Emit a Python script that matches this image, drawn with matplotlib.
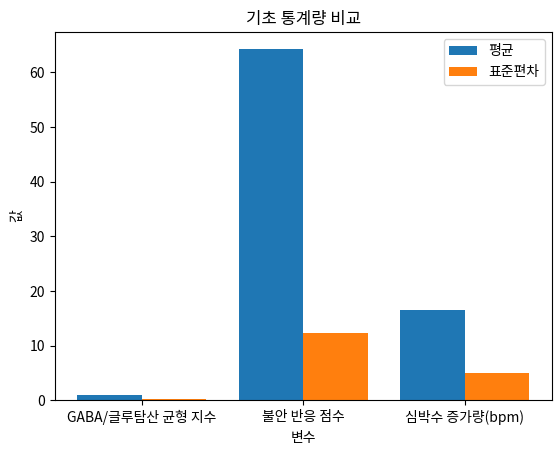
import matplotlib
matplotlib.use("Agg")
import matplotlib.pyplot as plt
import numpy as np

plt.rcParams['font.family'] = ['Noto Sans CJK KR', 'DejaVu Sans']

categories = ["GABA/글루탐산 균형 지수", "불안 반응 점수", "심박수 증가량(bpm)"]
means = [1.0, 64.2, 16.5]
stds = [0.3, 12.3, 5.0]

fig, ax = plt.subplots(figsize=(5.6, 4.55), dpi=100)
x = np.arange(len(categories))
w = 0.4
ax.bar(x - w/2, means, w, label="평균", color="#1f77b4")
ax.bar(x + w/2, stds, w, label="표준편차", color="#ff7f0e")
ax.set_xticks(x)
ax.set_xticklabels(categories)
ax.set_xlabel("변수")
ax.set_ylabel("값")
ax.set_title("기초 통계량 비교")
ax.legend(loc="upper right")
fig.subplots_adjust(left=0.098, right=0.985, top=0.93, bottom=0.12)
fig.savefig("out.png", dpi=100)
